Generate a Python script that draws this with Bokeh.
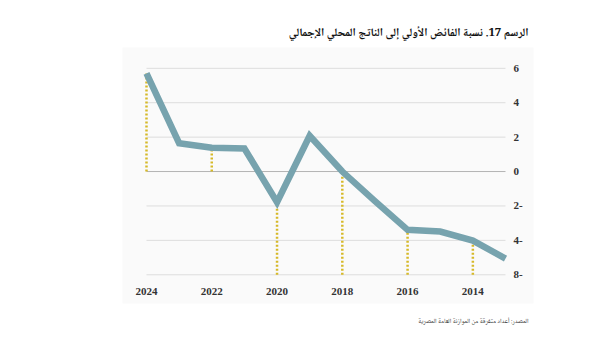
from bokeh.plotting import figure
from bokeh.models import Range1d, Title
from bokeh.core.properties import value
from bokeh.embed import file_html
from bokeh.resources import INLINE

# Data
years = [2024, 2023, 2022, 2021, 2020, 2019, 2018, 2017, 2016, 2015, 2014, 2013]
surplus = [5.7, 1.65, 1.38, 1.34, -1.78, 2.08, 0.0, -1.72, -3.39, -3.49, -4.01, -5.06]

drop_years = [2024, 2022, 2020, 2018, 2016, 2014]
drop_base = [0, 0, -6, -6, -6, -6]
drop_vals = [5.7, 1.38, -1.78, 0.0, -3.39, -4.01]

x_tick_vals = [2024, 2022, 2020, 2018, 2016, 2014]
x_tick_labels = ["2024", "2022", "2020", "2018", "2016", "2014"]
y_tick_vals = [6, 4, 2, 0, -2, -4, -6]
y_tick_labels = ["6", "4", "2", "0", "2-", "4-", "8-"]

title_text = "الرسم 17. نسبة الفائض الأولي إلى الناتج المحلي الإجمالي"
source_text = "المصدر: أعداد متفرقة من الموازنة العامة المصرية"

ARABIC = "Noto Naskh Arabic, Noto Sans Arabic, DejaVu Sans"

p = figure(width=600, height=354, output_backend="svg", toolbar_location=None,
           x_range=Range1d(2024.735, 2012.142), y_range=Range1d(-7.67, 7.21),
           min_border_left=122, min_border_right=67, min_border_top=47,
           min_border_bottom=51)
p.background_fill_color = "#fafafa"
p.border_fill_color = "white"
p.outline_line_color = None
p.xaxis.visible = False
p.yaxis.visible = False
p.xgrid.visible = False
p.ygrid.visible = False

xmin, xmax = min(years), max(years)
grid_vals = [v for v in y_tick_vals if v != 0]
p.segment(x0=[xmax] * len(grid_vals), x1=[xmin] * len(grid_vals), y0=grid_vals, y1=grid_vals,
          line_color="#dddddd", line_width=1)
p.segment(x0=[xmax], x1=[xmin], y0=[0], y1=[0], line_color="#b3b3b3", line_width=1)

p.segment(x0=drop_years, x1=drop_years, y0=drop_base, y1=drop_vals,
          line_color="#d6b928", line_width=2.5, line_dash="2 2")

p.line(years, surplus, line_color="#77a3ae", line_width=6.5, line_join="miter")

# tick labels
p.text(x=x_tick_vals, y=[min(y_tick_vals)] * len(x_tick_vals), text=x_tick_labels,
       y_offset=17, text_align="center", text_baseline="middle",
       text_font=value("Liberation Serif"), text_font_size="11px", text_color="#333333",
       text_font_style="bold")
p.text(x=[xmin] * len(y_tick_vals), y=y_tick_vals, text=y_tick_labels,
       x_offset=8, text_align="left", text_baseline="middle",
       text_font=value("Liberation Serif"), text_font_size="11px", text_color="#333333",
       text_font_style="bold")

t = Title(text=title_text, align="right", text_font=ARABIC, text_font_size="11.5px",
          text_font_style="bold", text_color="#111111", offset=5, standoff=9)
p.add_layout(t, "above")
s = Title(text=source_text, align="right", text_font=ARABIC, text_font_size="6.5px",
          text_font_style="normal", text_color="#333333", offset=5, standoff=20)
p.add_layout(s, "below")

open("out.html", "w").write(file_html(p, INLINE))
